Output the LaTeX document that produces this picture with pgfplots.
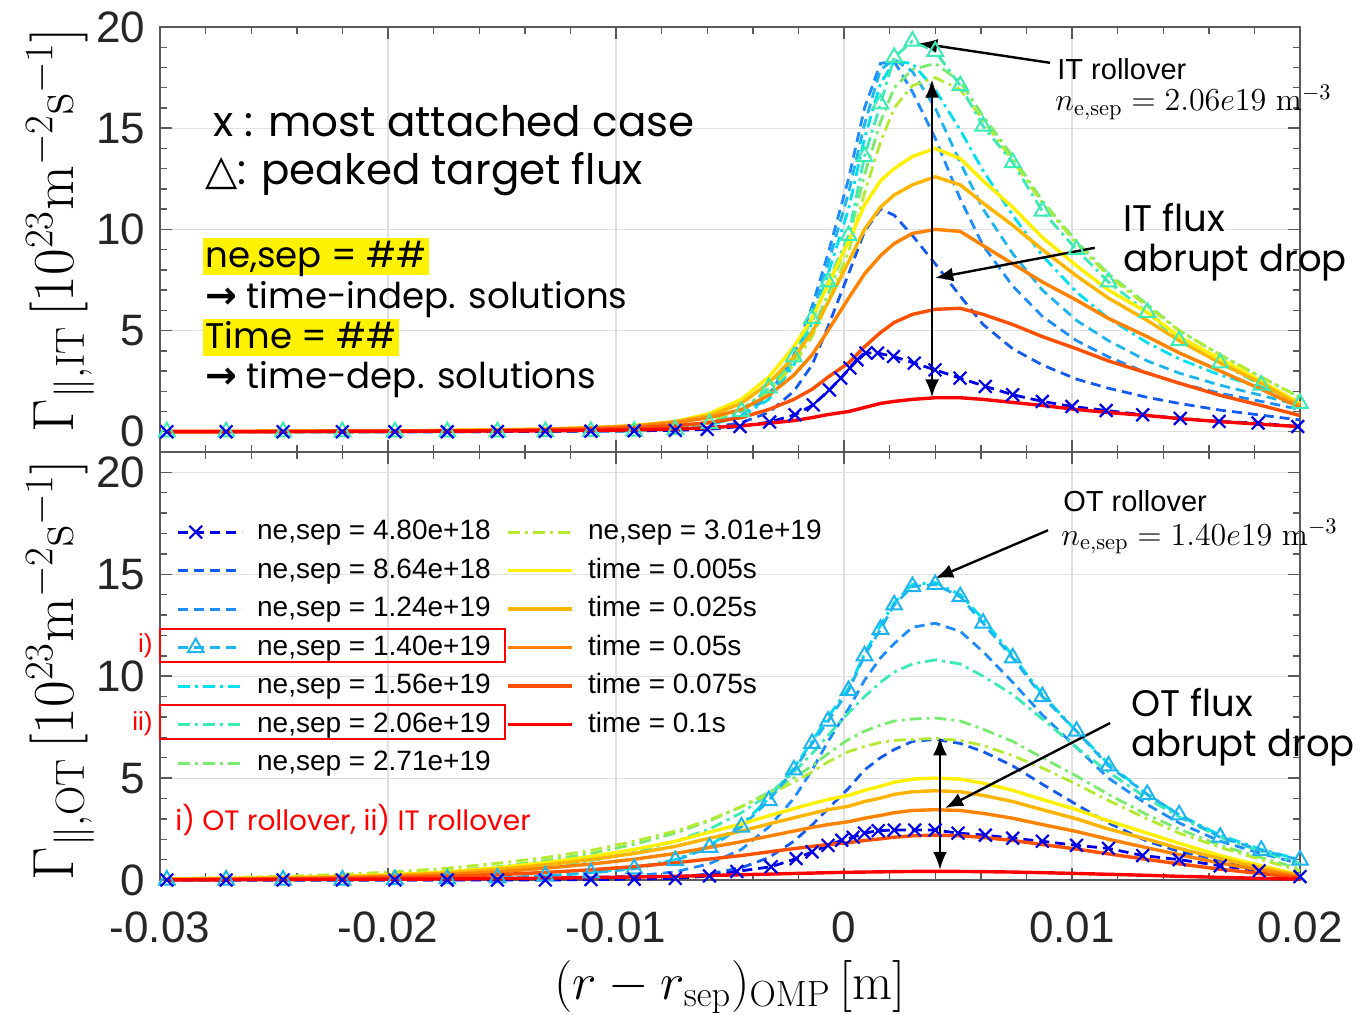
\RequirePackage{fix-cm}
\documentclass[border=0pt]{standalone}
\usepackage[no-math]{fontspec}
\usepackage{pgfplots}
\pgfplotsset{compat=1.18}
\usepackage{pgfplotstable}
\usetikzlibrary{arrows.meta}
\newfontfamily\arial{Liberation Sans}
\newfontfamily\gothic{Poppins}
\newfontfamily\dejavu{DejaVu Sans}
\definecolor{c1}{RGB}{0,0,230}
\definecolor{c2}{RGB}{20,90,240}
\definecolor{c3}{RGB}{30,140,255}
\definecolor{c4}{RGB}{30,180,240}
\definecolor{c5}{RGB}{0,225,240}
\definecolor{c6}{RGB}{60,235,180}
\definecolor{c7}{RGB}{120,235,110}
\definecolor{c8}{RGB}{180,235,50}
\definecolor{t1}{RGB}{255,240,0}
\definecolor{t2}{RGB}{255,180,0}
\definecolor{t3}{RGB}{255,130,0}
\definecolor{t4}{RGB}{255,80,0}
\definecolor{t5}{RGB}{255,0,0}

% IT (inner target) profiles
\pgfplotstableread{
r a b c d e f g t1 t2 t3 t4 t5
-0.0297 0 0 0 0 0 0 0 0.01 0.01 0.01 0.01 0.01
-0.0271 0 0 0 0 0 0 0 0.01 0.01 0.01 0.01 0.01
-0.0246 0 0 0 0 0 0 0 0.02 0.02 0.02 0.02 0.01
-0.0220 0 0 0 0 0 0 0 0.03 0.03 0.03 0.02 0.02
-0.0197 0 0 0 0 0 0.01 0.01 0.04 0.04 0.04 0.03 0.02
-0.0174 0 0.01 0.01 0.01 0 0.02 0.02 0.06 0.06 0.06 0.04 0.03
-0.0152 0.01 0.02 0.02 0.02 0 0.03 0.03 0.09 0.09 0.08 0.06 0.04
-0.0131 0.02 0.03 0.03 0.03 0.01 0.05 0.05 0.13 0.13 0.12 0.09 0.05
-0.0111 0.03 0.05 0.05 0.05 0.02 0.08 0.08 0.2 0.2 0.18 0.13 0.07
-0.0092 0.05 0.08 0.08 0.08 0.03 0.12 0.12 0.3 0.3 0.27 0.2 0.09
-0.0074 0.08 0.15 0.15 0.15 0.1 0.2 0.2 0.5 0.5 0.45 0.3 0.13
-0.0059 0.2 0.35 0.35 0.35 0.4 0.5 0.5 0.9 0.8 0.7 0.45 0.2
-0.0045 0.45 0.8 0.8 0.75 1.0 1.1 1.0 1.6 1.4 1.1 0.7 0.3
-0.0033 0.95 1.8 1.7 1.6 2.17 2.1 2.0 2.7 2.4 1.8 1.1 0.42
-0.0022 2.0 3.8 3.5 3.3 3.7 3.5 3.3 4.2 3.7 2.8 1.6 0.55
-0.0014 3.3 6.2 5.8 5.4 5.6 5.0 4.7 5.6 4.9 3.8 2.1 0.7
-0.0007 5.2 8.8 8.3 7.8 7.4 6.8 6.4 7.3 6.4 5.0 2.7 0.85
0.0002 7.8 12.5 11.8 11.0 9.7 9.5 8.9 9.4 8.4 6.6 3.4 1.0
0.0009 9.9 16.0 15.2 14.5 13.6 12.7 11.8 11.2 10.0 7.8 4.2 1.2
0.0016 11.0 18.2 17.9 17.2 16.2 15.3 14.3 12.4 11.1 8.7 4.9 1.4
0.0022 10.7 18.3 18.4 18.3 18.5 17.0 16.0 13.0 11.7 9.3 5.4 1.5
0.0030 9.7 16.8 17.8 18.2 19.3 17.9 17.1 13.6 12.2 9.8 5.8 1.6
0.0040 8.3 14.5 16.0 16.9 18.8 18.2 17.5 14.0 12.6 10.0 6.05 1.68
0.0051 6.7 11.5 13.3 14.9 17.1 17.3 16.9 13.5 12.2 9.9 6.1 1.68
0.0061 5.3 9.2 11.0 12.9 15.1 15.6 15.4 12.4 11.3 9.2 5.8 1.6
0.0074 4.1 7.2 8.8 10.7 13.3 13.6 13.4 11.1 10.2 8.3 5.3 1.45
0.0087 3.3 5.7 7.0 8.7 10.9 11.4 11.3 9.6 9.0 7.4 4.7 1.3
0.0102 2.6 4.5 5.5 6.9 9.0 9.4 9.3 8.2 7.7 6.5 4.1 1.1
0.0116 2.15 3.7 4.5 5.6 7.4 7.8 7.7 7.0 6.6 5.6 3.5 0.95
0.0133 1.7 2.9 3.5 4.4 5.9 6.3 6.2 5.9 5.5 4.7 2.9 0.8
0.0147 1.4 2.4 2.9 3.6 4.5 5.0 5.0 4.7 4.5 3.9 2.4 0.65
0.0165 1.07 1.9 2.3 2.8 3.4 3.8 3.8 3.6 3.4 3.0 1.8 0.5
0.0183 0.82 1.5 1.8 2.2 2.3 2.7 2.7 2.5 2.4 2.1 1.3 0.37
0.0200 0.58 1.1 1.3 1.5 1.4 1.7 1.7 1.4 1.3 1.2 0.8 0.25
}\ittab

\pgfplotstableread{
r v
-0.0297 0
-0.0271 0
-0.0246 0
-0.0220 0
-0.0197 0
-0.0174 0
-0.0152 0.01
-0.0131 0.02
-0.0111 0.03
-0.0092 0.05
-0.0074 0.07
-0.0060 0.12
-0.00456 0.26
-0.00326 0.48
-0.00215 0.84
-0.00135 1.33
-0.00064 2.07
-0.00014 2.65
0.00026 3.15
0.00057 3.56
0.00096 3.89
0.00147 3.89
0.00217 3.72
0.00308 3.39
0.00399 3.06
0.00509 2.65
0.0062 2.24
0.0074 1.83
0.0087 1.5
0.0100 1.25
0.0115 1.05
0.0131 0.84
0.01475 0.66
0.01645 0.51
0.01816 0.43
0.0199 0.26
}\itx

% OT (outer target) profiles
\pgfplotstableread{
r a b c d e f g t1 t2 t3 t4 t5
-0.0297 0 0 0 0 0.03 0.06 0.08 0.05 0.04 0.03 0.02 0.01
-0.0271 0 0 0 0 0.05 0.09 0.12 0.08 0.07 0.05 0.03 0.01
-0.0246 0 0 0 0 0.08 0.14 0.18 0.12 0.1 0.08 0.05 0.02
-0.0220 0 0 0 0 0.13 0.21 0.28 0.18 0.16 0.12 0.08 0.03
-0.0197 0 0.01 0.02 0.02 0.2 0.3 0.4 0.27 0.23 0.18 0.12 0.04
-0.0174 0.01 0.02 0.05 0.05 0.3 0.45 0.58 0.4 0.35 0.27 0.18 0.05
-0.0152 0.02 0.04 0.1 0.1 0.45 0.65 0.82 0.6 0.52 0.4 0.26 0.07
-0.0131 0.03 0.07 0.2 0.2 0.65 0.95 1.1 0.85 0.74 0.58 0.37 0.09
-0.0111 0.05 0.12 0.35 0.35 0.95 1.3 1.45 1.15 1.0 0.78 0.5 0.12
-0.0092 0.08 0.2 0.55 0.6 1.35 1.75 1.9 1.5 1.3 1.02 0.66 0.15
-0.0074 0.14 0.4 0.95 1.0 1.9 2.3 2.4 1.9 1.65 1.3 0.84 0.18
-0.0059 0.3 0.8 1.6 1.7 2.5 2.9 2.95 2.35 2.05 1.6 1.03 0.22
-0.0045 0.6 1.5 2.6 2.7 3.3 3.6 3.6 2.75 2.4 1.88 1.2 0.26
-0.0033 1.1 2.6 3.9 4.0 4.2 4.3 4.2 3.15 2.75 2.15 1.38 0.29
-0.0022 1.9 4.0 5.4 5.5 5.3 5.0 4.8 3.5 3.05 2.4 1.54 0.32
-0.0014 2.7 5.4 6.7 6.8 6.2 5.6 5.3 3.75 3.27 2.58 1.65 0.34
-0.0007 3.5 6.8 7.8 8.0 7.1 6.2 5.8 3.95 3.45 2.72 1.74 0.36
0.0002 4.5 8.4 9.3 9.4 8.2 6.9 6.3 4.15 3.62 2.86 1.83 0.38
0.0009 5.4 9.8 11.0 11.1 9.0 7.3 6.55 4.4 3.85 3.03 1.94 0.39
0.0016 6.0 10.9 12.3 12.5 9.7 7.6 6.75 4.6 4.02 3.17 2.02 0.4
0.0022 6.4 11.6 13.5 13.6 10.2 7.8 6.85 4.8 4.2 3.3 2.1 0.41
0.0030 6.8 12.4 14.4 14.5 10.6 7.9 6.9 4.95 4.33 3.41 2.17 0.42
0.0040 6.9 12.6 14.5 14.6 10.8 7.95 6.95 5.0 4.38 3.45 2.2 0.42
0.0051 6.7 12.2 13.9 14.0 10.6 7.8 6.85 4.95 4.33 3.41 2.17 0.42
0.0061 6.3 11.2 12.6 12.8 10.0 7.4 6.6 4.75 4.15 3.27 2.09 0.41
0.0074 5.6 9.7 10.9 11.0 9.1 6.8 6.1 4.4 3.85 3.03 1.94 0.39
0.0087 4.7 8.1 9.0 9.1 7.9 6.0 5.5 3.95 3.45 2.72 1.74 0.36
0.0102 3.7 6.5 7.3 7.3 6.5 5.1 4.7 3.45 3.0 2.38 1.52 0.32
0.0116 2.8 5.0 5.6 5.7 5.3 4.2 3.9 2.9 2.5 2.0 1.28 0.28
0.0133 1.9 3.7 4.2 4.2 4.0 3.2 3.0 2.3 2.0 1.58 1.01 0.23
0.0147 1.4 2.8 3.2 3.2 3.1 2.5 2.3 1.8 1.55 1.24 0.79 0.18
0.0165 0.95 1.9 2.1 2.2 2.1 1.7 1.6 1.2 1.05 0.83 0.53 0.13
0.0183 0.6 1.3 1.46 1.5 1.4 1.1 1.0 0.7 0.6 0.48 0.31 0.08
0.0200 0.3 0.8 0.98 1.0 0.8 0.55 0.45 0.25 0.22 0.17 0.11 0.04
}\ottab

\pgfplotstableread{
r v
-0.0297 0
-0.0271 0
-0.0246 0
-0.0220 0
-0.0197 0
-0.0174 0
-0.0152 0
-0.0131 0
-0.0111 0.02
-0.0092 0.04
-0.0074 0.08
-0.0059 0.2
-0.0047 0.42
-0.0032 0.65
-0.0021 1.05
-0.0014 1.38
-0.0007 1.7
-0.0001 1.95
0.0004 2.1
0.0009 2.3
0.0015 2.42
0.0022 2.45
0.0031 2.45
0.0040 2.45
0.0050 2.3
0.0062 2.2
0.0074 2.05
0.0087 1.9
0.0102 1.7
0.0116 1.55
0.0131 1.2
0.0147 1.0
0.0165 0.7
0.0182 0.45
0.0200 0.17
}\otx

\pgfplotsset{
  dsh/.style={line width=1.4pt, dash pattern=on 5pt off 3pt},
  dd/.style={line width=1.4pt, dash pattern=on 6pt off 2.5pt on 1.5pt off 2.5pt},
  sol/.style={line width=1.7pt, solid},
  base/.style={
    scale only axis, width=570pt, anchor=south west,
    xmin=-0.03, xmax=0.02,
    xtick={-0.03,-0.02,-0.01,0,0.01,0.02},
    ytick={0,5,10,15,20}, yticklabels={0,5,10,15,20},
    minor x tick num=4, minor y tick num=4,
    tick align=inside, major tick length=6pt, minor tick length=3.5pt,
    xmajorgrids, ymajorgrids,
    major grid style={black!12, line width=0.6pt},
    axis line style={black!65, line width=0.7pt},
    tick style={black!65, line width=0.7pt},
    tick label style={font=\arial\fontsize{22}{24}\selectfont, text=black!85, inner sep=1pt},
    yticklabel style={xshift=-6.3pt},
    scaled x ticks=false, clip=false,
    legend image code/.code={\draw[mark repeat=2,mark phase=2,##1] plot coordinates {(0pt,0pt) (9pt,0pt) (32pt,0pt)};},
  },
}

\begin{document}
\begin{tikzpicture}
\path[use as bounding box] (0,0) rectangle (682.5pt,507pt);

% ---------- top: inner target ----------
\begin{axis}[base, at={(80pt,281pt)}, height=212.5pt, ymin=-1, ymax=20,
  xticklabel=\empty,
  ylabel={$\Gamma_{\parallel,\mathrm{IT}}\,[10^{23}\mathrm{m}^{-2}\mathrm{s}^{-1}]$},
  every axis y label/.style={at={(axis description cs:-0.0877,0.522)},rotate=90,anchor=center,font=\fontsize{29}{31}\selectfont}]
\addplot[c2, dsh] table[x=r,y=a] {\ittab};
\addplot[c3, dsh] table[x=r,y=b] {\ittab};
\addplot[c4, dsh] table[x=r,y=c] {\ittab};
\addplot[c5, dd] table[x=r,y=d] {\ittab};
\addplot[c7, dd] table[x=r,y=f] {\ittab};
\addplot[c8, dd] table[x=r,y=g] {\ittab};
\addplot[c6, dd, mark=triangle, mark size=4.5pt, mark options={solid, line width=1pt}] table[x=r,y=e] {\ittab};
\addplot[c1, dsh, mark=x, mark size=4.5pt, mark options={solid, line width=1.1pt}] table[x=r,y=v] {\itx};
\addplot[t1, sol] table[x=r,y=t1] {\ittab};
\addplot[t2, sol] table[x=r,y=t2] {\ittab};
\addplot[t3, sol] table[x=r,y=t3] {\ittab};
\addplot[t4, sol] table[x=r,y=t4] {\ittab};
\addplot[t5, sol] table[x=r,y=t5] {\ittab};
\draw[-{Latex[length=9pt,width=7pt]}, line width=1.2pt] (axis cs:0.00904,18.23) -- (axis cs:0.0033,19.2);
\draw[{Latex[length=9pt,width=7pt]}-{Latex[length=9pt,width=7pt]}, line width=1.2pt] (axis cs:0.00386,17.4) -- (axis cs:0.00386,1.7);
\draw[-{Latex[length=9pt,width=7pt]}, line width=1.2pt] (axis cs:0.0110,9.09) -- (axis cs:0.0040,7.6);
\end{axis}

% ---------- bottom: outer target ----------
\begin{axis}[base, at={(80pt,67pt)}, height=214pt, ymin=0, ymax=21,
  xticklabels={-0.03,-0.02,-0.01,0,0.01,0.02},
  xticklabel style={yshift=-14.5pt},
  ylabel={$\Gamma_{\parallel,\mathrm{OT}}\,[10^{23}\mathrm{m}^{-2}\mathrm{s}^{-1}]$},
  every axis y label/.style={at={(axis description cs:-0.0877,0.49)},rotate=90,anchor=center,font=\fontsize{29}{31}\selectfont},
  xlabel={$(r-r_{\mathrm{sep}})_{\mathrm{OMP}}\,[\mathrm{m}]$},
  every axis x label/.style={at={(axis description cs:0.5,-0.25)},anchor=center,font=\fontsize{26}{28}\selectfont},
  legend columns=2,
  legend cell align=left,
  legend style={draw=none, fill=none, at={(axis description cs:0.014,0.85)}, anchor=north west,
    inner sep=0pt, font=\arial\fontsize{14}{16}\selectfont,
    nodes={inner sep=1pt, text height=10.5pt, text depth=3pt},
    row sep=3.75pt,
    /tikz/every odd column/.append style={column sep=6pt},
    /tikz/every even column/.append style={column sep=7pt}},
  ]
\addplot[c2, dsh, forget plot] table[x=r,y=a] {\ottab};
\addplot[c3, dsh, forget plot] table[x=r,y=b] {\ottab};
\addplot[c5, dd, forget plot] table[x=r,y=d] {\ottab};
\addplot[c6, dd, forget plot] table[x=r,y=e] {\ottab};
\addplot[c7, dd, forget plot] table[x=r,y=f] {\ottab};
\addplot[c8, dd, forget plot] table[x=r,y=g] {\ottab};
\addplot[c4, dsh, mark=triangle, mark size=4.5pt, mark options={solid, line width=1pt}, forget plot] table[x=r,y=c] {\ottab};
\addplot[c1, dsh, mark=x, mark size=4.5pt, mark options={solid, line width=1.1pt}, forget plot] table[x=r,y=v] {\otx};
\addplot[t1, sol, forget plot] table[x=r,y=t1] {\ottab};
\addplot[t2, sol, forget plot] table[x=r,y=t2] {\ottab};
\addplot[t3, sol, forget plot] table[x=r,y=t3] {\ottab};
\addplot[t4, sol, forget plot] table[x=r,y=t4] {\ottab};
\addplot[t5, sol, forget plot] table[x=r,y=t5] {\ottab};
% legend, filled row by row
\addlegendimage{c1, dsh, mark=x, mark size=4.5pt, mark options={solid, line width=1.1pt}}
\addlegendentry{ne,sep = 4.80e+18}
\addlegendimage{c8, dd}
\addlegendentry{ne,sep = 3.01e+19}
\addlegendimage{c2, dsh}
\addlegendentry{ne,sep = 8.64e+18}
\addlegendimage{t1, sol}
\addlegendentry{time = 0.005s}
\addlegendimage{c3, dsh}
\addlegendentry{ne,sep = 1.24e+19}
\addlegendimage{t2, sol}
\addlegendentry{time = 0.025s}
\addlegendimage{c4, dsh, mark=triangle, mark size=4.5pt, mark options={solid, line width=1pt}}
\addlegendentry{ne,sep = 1.40e+19}
\addlegendimage{t3, sol}
\addlegendentry{time = 0.05s}
\addlegendimage{c5, dd}
\addlegendentry{ne,sep = 1.56e+19}
\addlegendimage{t4, sol}
\addlegendentry{time = 0.075s}
\addlegendimage{c6, dd}
\addlegendentry{ne,sep = 2.06e+19}
\addlegendimage{t5, sol}
\addlegendentry{time = 0.1s}
\addlegendimage{c7, dd}
\addlegendentry{ne,sep = 2.71e+19}
\draw[-{Latex[length=9pt,width=7pt]}, line width=1.2pt] (axis cs:0.00895,17.16) -- (axis cs:0.0040,14.8);
\draw[-{Latex[length=9pt,width=7pt]}, line width=1.2pt] (axis cs:0.01167,7.7) -- (axis cs:0.00443,3.53);
\draw[{Latex[length=9pt,width=7pt]}-{Latex[length=9pt,width=7pt]}, line width=1.2pt] (axis cs:0.00421,7.0) -- (axis cs:0.00421,0.5);
\end{axis}

% ---------- annotations (pixel frame of the reference) ----------
\begin{scope}[x=0.5pt,y=-0.5pt,shift={(0pt,507pt)}]
\node[anchor=base west, inner sep=0, font=\gothic\fontsize{21}{24}\selectfont] at (213,137) {x : most attached case};
\node[anchor=base west, inner sep=0, font=\gothic\fontsize{21}{24}\selectfont] at (205,185) {{\dejavu △}: peaked target flux};
\node[anchor=base west, fill=yellow, inner xsep=1pt, inner ysep=0.75pt, text height=14pt, text depth=3pt, font=\gothic\fontsize{17.8}{21}\selectfont] at (203,268) {ne,sep = \#\#};
\node[anchor=base west, inner sep=0, font=\gothic\fontsize{17.8}{21}\selectfont] at (205,309) {{\dejavu\bfseries\fontsize{19}{21}\selectfont →} time-indep. solutions};
\node[anchor=base west, fill=yellow, inner xsep=1pt, inner ysep=0.75pt, text height=14pt, text depth=3pt, font=\gothic\fontsize{17.8}{21}\selectfont] at (203,349) {Time = \#\#};
\node[anchor=base west, inner sep=0, font=\gothic\fontsize{17.8}{21}\selectfont] at (205,389) {{\dejavu\bfseries\fontsize{19}{21}\selectfont →} time-dep. solutions};
\node[anchor=base west, inner sep=0, font=\arial\fontsize{14.5}{16}\selectfont] at (1057,80) {IT rollover};
\node[anchor=base west, inner sep=0, font=\fontsize{16}{18}\selectfont] at (1055,111) {$n_{\mathrm{e,sep}}=2.06e19\ \mathrm{m}^{-3}$};
\node[anchor=base west, inner sep=0, font=\gothic\fontsize{18.5}{22}\selectfont] at (1123,232) {IT flux};
\node[anchor=base west, inner sep=0, font=\gothic\fontsize{18.5}{22}\selectfont] at (1123,272) {abrupt drop};
\node[anchor=base west, inner sep=0, font=\arial\fontsize{14.5}{16}\selectfont] at (1063,511) {OT rollover};
\node[anchor=base west, inner sep=0, font=\fontsize{16}{18}\selectfont] at (1061,545) {$n_{\mathrm{e,sep}}=1.40e19\ \mathrm{m}^{-3}$};
\node[anchor=base west, inner sep=0, font=\gothic\fontsize{18.5}{22}\selectfont] at (1131,716) {OT flux};
\node[anchor=base west, inner sep=0, font=\gothic\fontsize{18.5}{22}\selectfont] at (1131,756) {abrupt drop};
\node[anchor=base west, inner sep=0, text=red, font=\gothic\fontsize{14}{16}\selectfont] at (175,830) {i) OT rollover, ii) IT rollover};
\node[anchor=base east, inner sep=0, text=red, font=\arial\fontsize{13}{14}\selectfont] at (153,652) {i)};
\node[anchor=base east, inner sep=0, text=red, font=\arial\fontsize{13}{14}\selectfont] at (153,730) {ii)};
\draw[red, line width=1pt] (160,629) rectangle (505,662);
\draw[red, line width=1pt] (160,705) rectangle (505,739);
\end{scope}
\end{tikzpicture}
\end{document}
